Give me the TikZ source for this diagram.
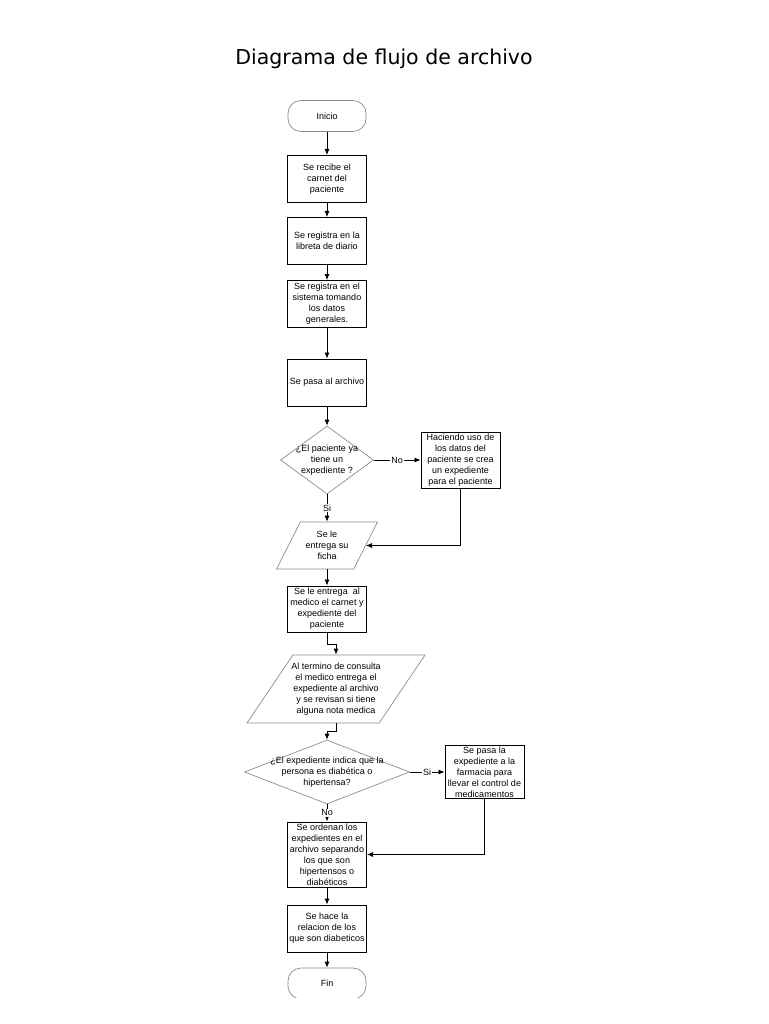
\documentclass[tikz,border=0pt]{standalone}
\usepackage{fontspec}
\setmainfont{Liberation Sans}
\newfontfamily\titlefont{DejaVu Sans}
\usetikzlibrary{positioning, shapes.geometric, arrows.meta}
\definecolor{shapegray}{gray}{0.55}
\tikzset{node distance = 63pt and 134pt}
\tikzset{block/.style = {draw, line width=1pt, minimum width=79pt, minimum height=47pt, inner sep=1pt, align=center, font=\fontsize{9}{11}\selectfont}}
\tikzset{term/.style = {draw=shapegray, line width=0.7pt, rounded corners=13pt, minimum width=78pt, minimum height=31pt, font=\fontsize{9}{11}\selectfont}}
\tikzset{decision/.style = {draw=shapegray, line width=0.7pt, diamond, inner sep=1pt}}
\tikzset{io/.style = {draw=shapegray, line width=0.7pt, trapezium, trapezium stretches=true, inner sep=1pt}}
\tikzset{inside/.style = {align=center, font=\fontsize{9}{11}\selectfont}}
\tikzset{link/.style = {midway, fill=white, inner sep=1pt, font=\fontsize{9}{11}\selectfont}}

\begin{document}
\begin{tikzpicture}[thick, on grid, >={Latex[length=6pt, width=5pt]}]
			\useasboundingbox (0,0) rectangle (768pt,-1024pt);
			% Title
			\node [anchor=base, font=\titlefont\fontsize{20.5}{24}\selectfont] (title) at (384pt,-65pt) {Diagrama de flujo de archivo};
			% Start
			\node [term] (start) at (327pt,-116pt) {Inicio};
			% Card received
			\node [block, below=63pt of start] (recv-card) {Se recibe el\\carnet del\\paciente};
			\draw[->] (start) -- (recv-card);
			% Diary
			\node [block, below=62pt of recv-card] (diary) {Se registra en la\\libreta de diario};
			\draw[->] (recv-card) -- (diary);
			% System
			\node [block, below=63pt of diary] (system) {Se registra en el\\sistema tomando\\los datos\\generales.};
			\draw[->] (diary) -- (system);
			% Archive
			\node [block, below=78.5pt of system] (archive) {Se pasa al archivo};
			\draw[->] (system) -- (archive);

			% Has a file?
			\node [decision, minimum width=93pt, minimum height=68pt, below=77.5pt of archive,
				label={[inside]center:{¿El paciente ya\\tiene un\\expediente ?}}] (has-file) {};
			\draw[->] (archive) -- (has-file);
			% New file
			\node [block, minimum height=56pt, right=133.5pt of has-file] (new-file) {Haciendo uso de\\los datos del\\paciente se crea\\un expediente\\para el paciente};
			\draw[->] (has-file) -- node[link] {No} (new-file);
			% Patient card
			\node [io, trapezium left angle=66, trapezium right angle=114, minimum width=101pt, minimum height=47pt, below=85.5pt of has-file,
				label={[inside]center:{Se le\\entrega su\\ficha}}] (card) {};
			\draw[->] (has-file) -- node[link] {Si} (card);
			\draw[->] (new-file.south) |- (card.east);

			% Doctor
			\node [block, minimum height=46pt, below=63.5pt of card] (doctor) {Se le entrega\ \ al\\medico el carnet y\\expediente del\\paciente};
			\draw[->] (card) -- (doctor);
			% Review
			\node [io, trapezium left angle=62, trapezium right angle=118, minimum width=178pt, minimum height=68pt, below=80pt of doctor, xshift=9pt,
				label={[inside]center:{Al termino de consulta\\el medico entrega el\\expediente al archivo\\y se revisan si tiene\\alguna nota medica}}] (review) {};
			\draw[->] (doctor.south) -- ++(0,-12pt) -| (review.north);

			% Diabetic or hypertensive?
			\node [decision, minimum width=165pt, minimum height=64pt, below=83pt of review, xshift=-9pt,
				label={[inside]center:{¿El expediente indica que la\\persona es diabética o\\hipertensa?}}] (is-chronic) {};
			\draw[->] (review.south) -- ++(0,-8pt) -| (is-chronic.north);
			% Pharmacy
			\node [block, right=157.5pt of is-chronic] (pharmacy) {Se pasa la\\expediente a la\\farmacia para\\llevar el control de\\medicamentos};
			\draw[->] (is-chronic) -- node[link] {Si} (pharmacy);
			% Sort files
			\node [block, minimum height=65pt, below=82.5pt of is-chronic] (sort) {Se ordenan los\\expedientes en el\\archivo separando\\los que son\\hipertensos o\\diabéticos};
			\draw[->] (is-chronic) -- node[link] {No} (sort);
			\draw[->] (pharmacy.south) |- (sort.east);
			% Report
			\node [block, below=74pt of sort] (report) {Se hace la\\relacion de los\\que son diabeticos};
			\draw[->] (sort) -- (report);
			% End
			\begin{scope}
				\clip ([xshift=-60pt]report.south) rectangle ([xshift=60pt, yshift=-45pt]report.south);
				\node [term, below=55pt of report] (finish) {Fin};
			\end{scope}
			\draw[->] (report) -- (finish);
		\end{tikzpicture}
\end{document}
